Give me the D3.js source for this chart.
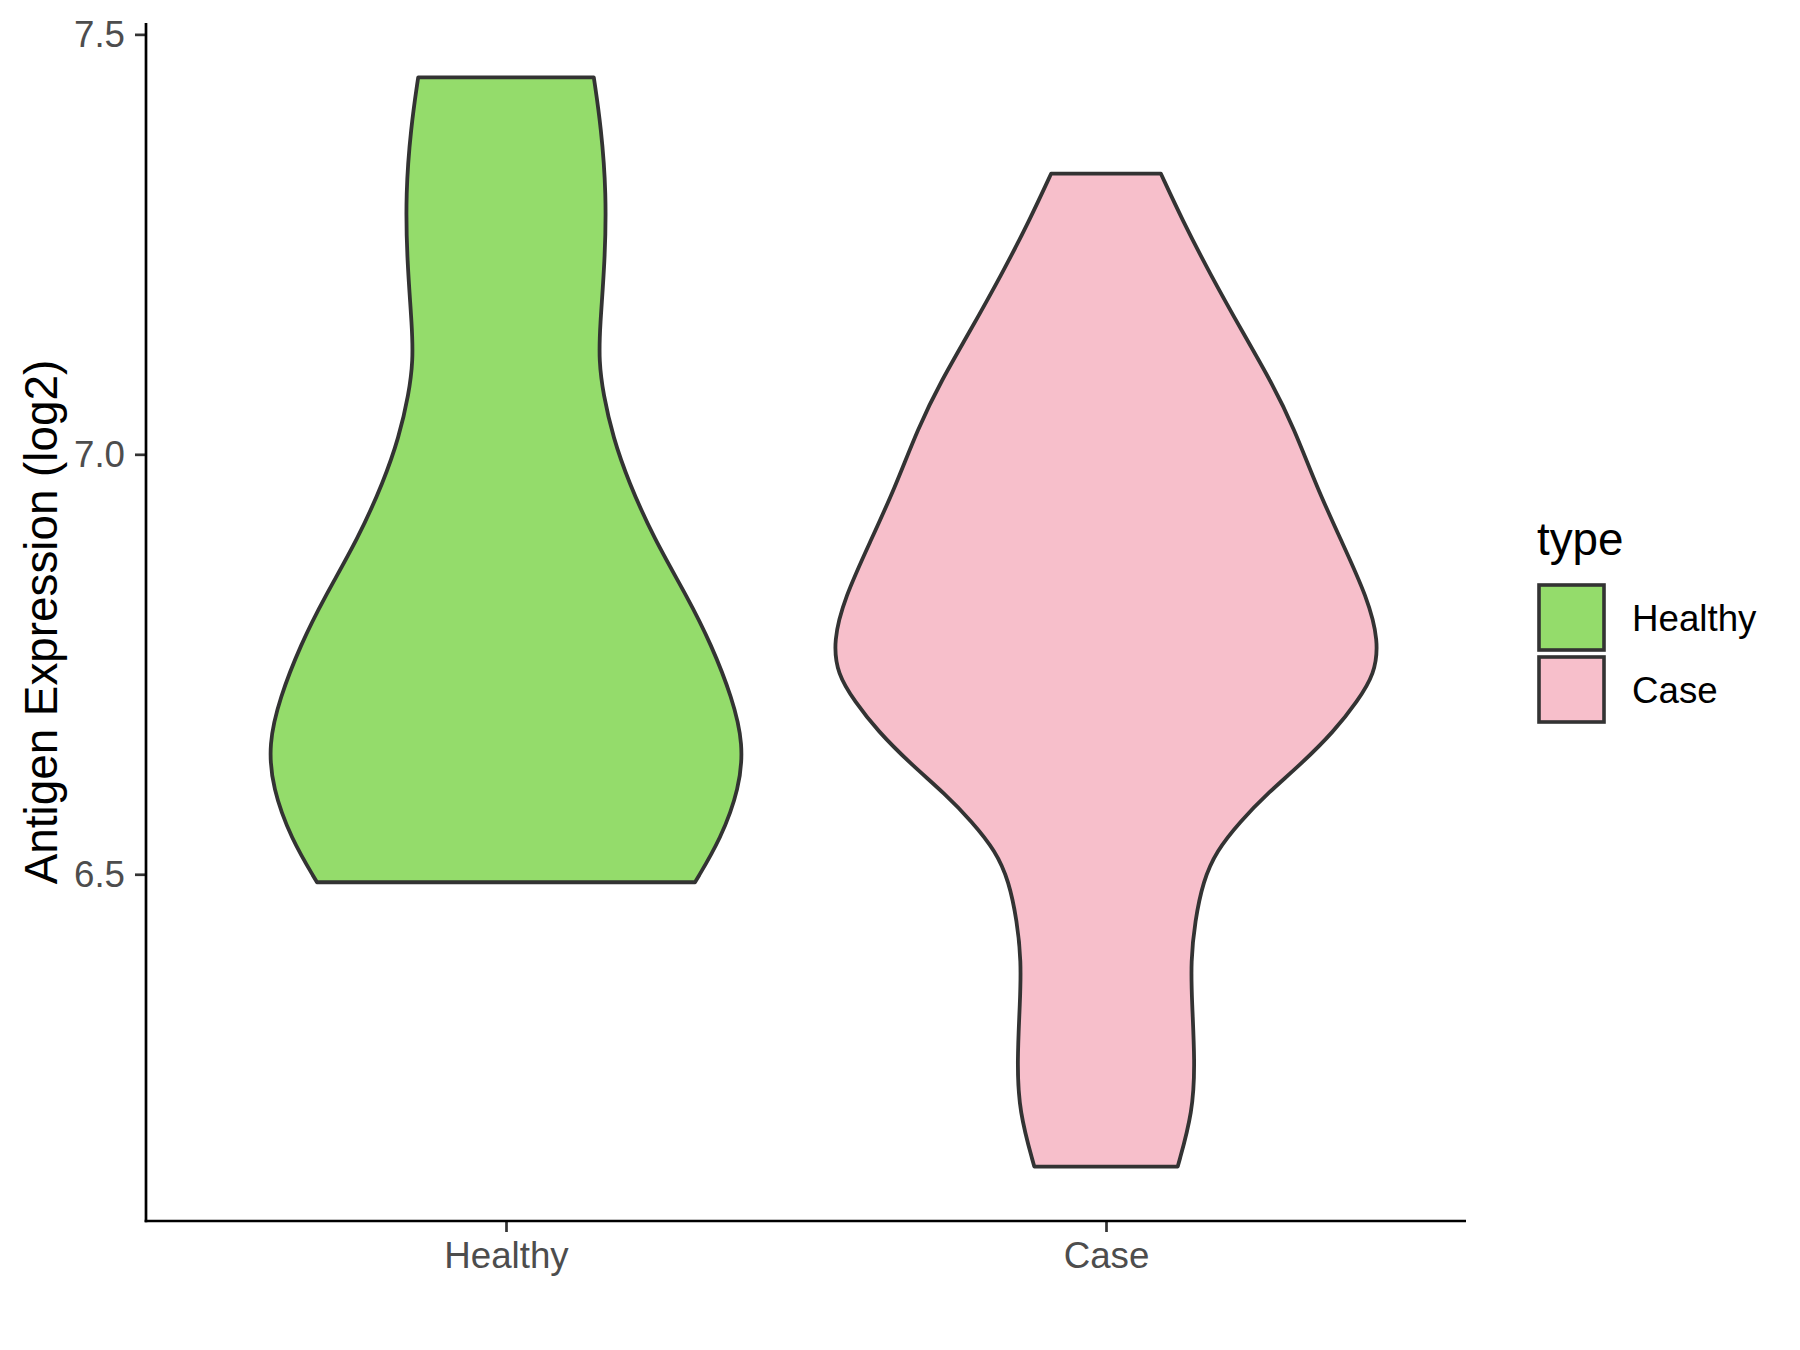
<!DOCTYPE html>
<html>
<head>
<meta charset="utf-8">
<script src="https://cdn.jsdelivr.net/npm/d3@7"></script>
<style>
  html, body { margin: 0; padding: 0; background: #ffffff; }
  svg { display: block; }
  text { font-family: "Liberation Sans", Arial, Helvetica, sans-serif; }
</style>
</head>
<body>
<svg id="chart" width="1800" height="1350"></svg>
<script>
// ---- Data ----
const categories = ["Healthy", "Case"];
const yTicks = [6.5, 7.0, 7.5];

// Healthy violin: expression values along the outline and their relative density (half width)
const healthyValues  = [7.4487, 7.389, 7.3105, 7.2306, 7.1508, 7.1114, 7.0721, 7.0197, 6.9684, 6.9005, 6.8290, 6.7741, 6.7098, 6.6549, 6.6025, 6.5429, 6.4905];
const healthyDensity = [0.322, 0.349, 0.368, 0.363, 0.344, 0.341, 0.356, 0.393, 0.448, 0.541, 0.667, 0.752, 0.830, 0.871, 0.856, 0.789, 0.693];

// Case violin
const caseValues  = [7.3343, 7.2783, 7.2151, 7.1436, 7.0876, 7.0316, 6.9601, 6.8969, 6.8290, 6.7777, 6.7384, 6.7062, 6.6704, 6.6311, 6.5954, 6.5632, 6.5274, 6.4917, 6.4440, 6.3963, 6.3486, 6.2771, 6.2175, 6.1520];
const caseDensity = [0.201, 0.281, 0.381, 0.504, 0.604, 0.689, 0.774, 0.863, 0.959, 1.000, 0.985, 0.922, 0.837, 0.715, 0.589, 0.493, 0.404, 0.356, 0.326, 0.311, 0.315, 0.326, 0.319, 0.263];

const fills = { Healthy: "#94DC6B", Case: "#F7BFCB" };

// ---- Layout ----
const svg = d3.select("#chart");
const panel = { left: 146, right: 1466, top: 23, bottom: 1221 };

const x = d3.scalePoint()
  .domain(categories)
  .range([panel.left, panel.right])
  .padding(0.6);

const allMin = Math.min(d3.min(healthyValues), d3.min(caseValues));
const allMax = Math.max(d3.max(healthyValues), d3.max(caseValues));
const span = allMax - allMin;
const y = d3.scaleLinear()
  .domain([allMin - 0.05 * span, allMax + 0.05 * span])
  .range([panel.bottom, panel.top]);

const maxDensity = Math.max(d3.max(healthyDensity), d3.max(caseDensity));
const w = d3.scaleLinear().domain([0, maxDensity * 0.99]).range([0, 0.45 * x.step()]);

const violins = [
  { name: "Healthy", values: healthyValues, density: healthyDensity },
  { name: "Case", values: caseValues, density: caseDensity }
];

const area = d3.area()
  .curve(d3.curveBasis);

violins.forEach(v => {
  const cx = x(v.name);
  const pts = v.values.map((val, i) => ({ val, d: v.density[i] }));
  area
    .y(p => y(p.val))
    .x0(p => cx - w(p.d))
    .x1(p => cx + w(p.d));
  svg.append("path")
    .datum(pts)
    .attr("d", area)
    .attr("fill", fills[v.name])
    .attr("stroke", "#333333")
    .attr("stroke-width", 3.8)
    .attr("stroke-linejoin", "round");
});

// ---- Axes ----
const yAxis = d3.axisLeft(y)
  .tickValues(yTicks)
  .tickFormat(d3.format(".1f"))
  .tickSize(11)
  .tickSizeOuter(0)
  .tickPadding(10);

const gy = svg.append("g")
  .attr("transform", `translate(${panel.left},0)`)
  .call(yAxis);

const xAxis = d3.axisBottom(x)
  .tickSize(11)
  .tickSizeOuter(0)
  .tickPadding(10);

const gx = svg.append("g")
  .attr("transform", `translate(0,${panel.bottom})`)
  .call(xAxis);

[gy, gx].forEach(g => {
  g.select(".domain").remove();
  g.selectAll(".tick line").attr("stroke", "#333333").attr("stroke-width", 2.7);
  g.selectAll(".tick text")
    .attr("fill", "#4D4D4D")
    .style("font-size", "36.7px")
    .style("font-family", "'Liberation Sans', Arial, sans-serif");
});

// axis lines (drawn across the whole panel)
svg.append("line")
  .attr("x1", panel.left).attr("x2", panel.left)
  .attr("y1", panel.top).attr("y2", panel.bottom + 1.35)
  .attr("stroke", "#000000").attr("stroke-width", 2.7);
svg.append("line")
  .attr("x1", panel.left - 1.35).attr("x2", panel.right)
  .attr("y1", panel.bottom).attr("y2", panel.bottom)
  .attr("stroke", "#000000").attr("stroke-width", 2.7);

// y-axis title
svg.append("text")
  .attr("transform", `translate(57,${(panel.top + panel.bottom) / 2}) rotate(-90)`)
  .attr("text-anchor", "middle")
  .style("font-size", "45.8px")
  .attr("fill", "#000000")
  .text("Antigen Expression (log2)");

// ---- Legend ----
const legend = svg.append("g");
legend.append("text")
  .attr("x", 1537)
  .attr("y", 555)
  .style("font-size", "45.8px")
  .attr("fill", "#000000")
  .text("type");

categories.forEach((c, i) => {
  const cy = 617.5 + i * 72;
  legend.append("rect")
    .attr("x", 1571.5 - 32.5)
    .attr("y", cy - 32.5)
    .attr("width", 65)
    .attr("height", 65)
    .attr("fill", fills[c])
    .attr("stroke", "#333333")
    .attr("stroke-width", 3.6);
  legend.append("text")
    .attr("x", 1632)
    .attr("y", cy + 13)
    .style("font-size", "36.7px")
    .attr("fill", "#000000")
    .text(c);
});
</script>
</body>
</html>
